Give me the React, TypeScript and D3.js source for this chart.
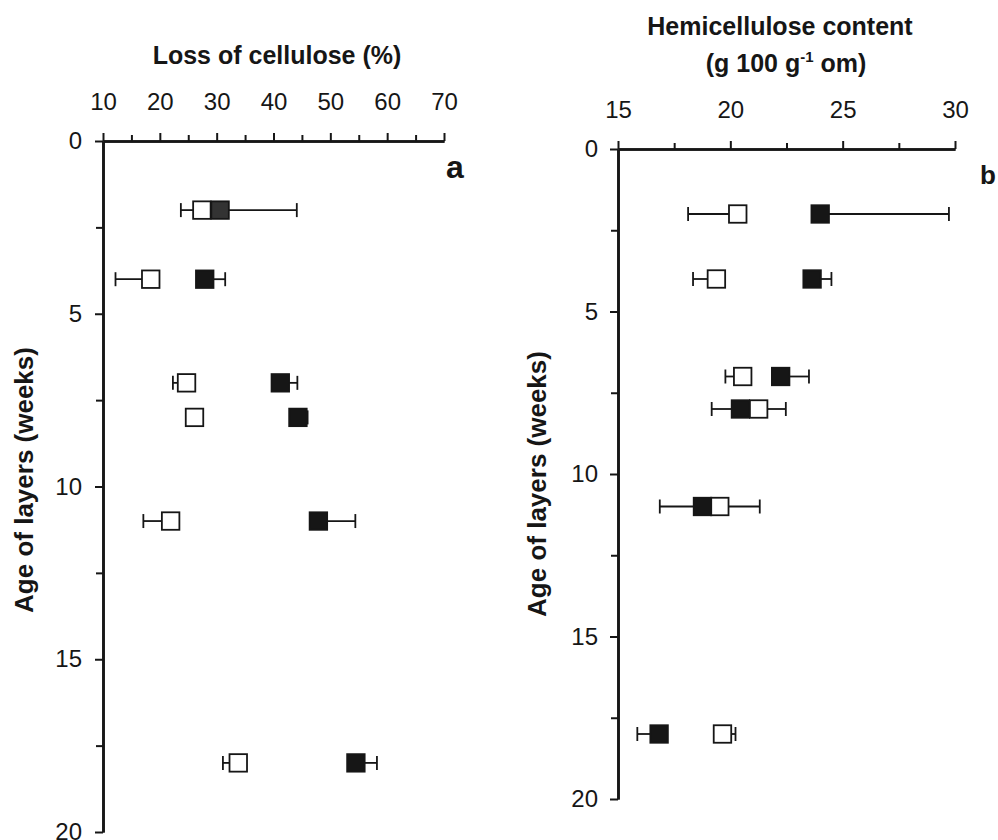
import React, { useRef, useEffect } from "react";
import * as d3 from "d3";

const FONT = "'Liberation Sans', Arial, Helvetica, sans-serif";
const INK = "#161616";

const weeks = [2, 4, 7, 8, 11, 18];
const ageTicks = [0, 5, 10, 15, 20];

// panel a - loss of cellulose (%)
const celluloseTicks = [10, 20, 30, 40, 50, 60, 70];
const celluloseOpen = [27.4, 18.4, 24.7, 26.1, 21.9, 33.8];
const celluloseOpenBar = [23.7, 12.2, 22.3, null, 17.1, 31.1];
const celluloseFilled = [30.6, 27.9, 41.2, 44.3, 47.9, 54.5];
const celluloseFilledBar = [44.1, 31.5, 44.2, 46.0, 54.4, 58.2];

// panel b - hemicellulose content (g 100 g-1 om)
const hemiTicks = [15, 20, 25, 30];
const hemiOpen = [20.33, 19.38, 20.55, 21.26, 19.53, 19.65];
const hemiOpenBar = [18.12, 18.34, 19.78, 22.47, 21.31, 20.23];
const hemiFilled = [24.0, 23.64, 22.24, 20.45, 18.76, 16.83];
const hemiFilledBar = [29.73, 24.5, 23.5, 19.17, 16.86, 15.86];

const midpoints = (t: number[]) => d3.pairs(t).map(([a, b]) => (a + b) / 2);

const drawPanel = (svg: any, p: any) => {
  const x = d3.scaleLinear().domain(p.xDomain).range([p.left, p.right]);
  const y = d3.scaleLinear().domain([0, 20]).range([p.top, p.bottom]);
  const g = svg.append("g");

  const styleAxis = (sel: any) => {
    sel.attr("font-family", FONT).attr("font-size", 24).attr("color", INK);
    sel.selectAll(".tick line").attr("stroke-width", 2);
    sel.select(".domain").attr("stroke-width", 2.6);
  };

  // minor ticks first
  g.append("g")
    .attr("transform", `translate(0,${p.top})`)
    .call(d3.axisTop(x).tickValues(midpoints(p.xTicks)).tickSize(6).tickSizeOuter(0).tickFormat(() => ""))
    .call(styleAxis);
  g.append("g")
    .attr("transform", `translate(${p.left},0)`)
    .call(d3.axisLeft(y).tickValues(midpoints(ageTicks)).tickSize(7).tickSizeOuter(0).tickFormat(() => ""))
    .call(styleAxis);

  g.append("g")
    .attr("transform", `translate(0,${p.top})`)
    .call(d3.axisTop(x).tickValues(p.xTicks).tickSize(8).tickSizeOuter(0).tickPadding(23).tickFormat(d3.format("d")))
    .call(styleAxis);
  g.append("g")
    .attr("transform", `translate(${p.left},0)`)
    .call(d3.axisLeft(y).tickValues(ageTicks).tickSize(8).tickSizeOuter(0).tickPadding(p.yPad).tickFormat(d3.format("d")))
    .call(styleAxis);

  // error bars (one-sided)
  const bars = [
    ...weeks.map((w, i) => ({ w, v: p.open[i], e: p.openBar[i] })),
    ...weeks.map((w, i) => ({ w, v: p.filled[i], e: p.filledBar[i] })),
  ].filter((d) => d.e != null);

  const eb = g.append("g").attr("stroke", INK).attr("stroke-width", 1.8);
  eb.selectAll("line.stem")
    .data(bars)
    .join("line")
    .attr("class", "stem")
    .attr("x1", (d: any) => x(d.v))
    .attr("x2", (d: any) => x(d.e))
    .attr("y1", (d: any) => y(d.w))
    .attr("y2", (d: any) => y(d.w));
  eb.selectAll("line.cap")
    .data(bars)
    .join("line")
    .attr("class", "cap")
    .attr("x1", (d: any) => x(d.e))
    .attr("x2", (d: any) => x(d.e))
    .attr("y1", (d: any) => y(d.w) - 7)
    .attr("y2", (d: any) => y(d.w) + 7);

  const sq = 17.5;
  g.append("g")
    .selectAll("rect")
    .data(weeks)
    .join("rect")
    .attr("x", (d: number, i: number) => x(p.open[i]) - sq / 2)
    .attr("y", (d: number) => y(d) - sq / 2)
    .attr("width", sq)
    .attr("height", sq)
    .attr("fill", "#fff")
    .attr("stroke", INK)
    .attr("stroke-width", 1.8);
  g.append("g")
    .selectAll("rect")
    .data(weeks)
    .join("rect")
    .attr("x", (d: number, i: number) => x(p.filled[i]) - sq / 2)
    .attr("y", (d: number) => y(d) - sq / 2)
    .attr("width", sq)
    .attr("height", sq)
    .attr("fill", (d: number, i: number) => (p.key === "a" && i === 0 ? "#333" : INK))
    .attr("stroke", INK)
    .attr("stroke-width", 1.8);

  // y label
  g.append("text")
    .attr("transform", `translate(${p.yLabelX},${p.yLabelY}) rotate(-90)`)
    .attr("text-anchor", "middle")
    .attr("font-family", FONT)
    .attr("font-weight", "bold")
    .attr("font-size", 26)
    .attr("fill", INK)
    .text("Age of layers (weeks)");

  // panel letter
  g.append("text")
    .attr("x", p.letterX)
    .attr("y", p.letterY)
    .attr("font-family", FONT)
    .attr("font-weight", "bold")
    .attr("font-size", p.letterSize)
    .attr("fill", INK)
    .text(p.key);
};

const App = () => {
  const svgRef = useRef(null);

  useEffect(() => {
    const svg = d3.select(svgRef.current);
    svg.selectAll("*").remove();

    drawPanel(svg, {
      key: "a",
      xDomain: [10, 70],
      xTicks: celluloseTicks,
      left: 103,
      right: 444,
      top: 141,
      bottom: 832,
      yPad: 13,
      open: celluloseOpen,
      openBar: celluloseOpenBar,
      filled: celluloseFilled,
      filledBar: celluloseFilledBar,
      yLabelX: 33,
      yLabelY: 480,
      letterX: 446,
      letterY: 178,
      letterSize: 32,
    });

    drawPanel(svg, {
      key: "b",
      xDomain: [15, 30],
      xTicks: hemiTicks,
      left: 618,
      right: 955,
      top: 149,
      bottom: 799,
      yPad: 12,
      open: hemiOpen,
      openBar: hemiOpenBar,
      filled: hemiFilled,
      filledBar: hemiFilledBar,
      yLabelX: 546,
      yLabelY: 484,
      letterX: 980,
      letterY: 184,
      letterSize: 26,
    });

    // titles
    svg.append("text")
      .attr("x", 277)
      .attr("y", 64)
      .attr("text-anchor", "middle")
      .attr("font-family", FONT)
      .attr("font-weight", "bold")
      .attr("font-size", 25)
      .attr("fill", INK)
      .text("Loss of cellulose (%)");

    svg.append("text")
      .attr("x", 780)
      .attr("y", 35)
      .attr("text-anchor", "middle")
      .attr("font-family", FONT)
      .attr("font-weight", "bold")
      .attr("font-size", 25)
      .attr("fill", INK)
      .text("Hemicellulose content");

    const t2 = svg.append("text")
      .attr("x", 786)
      .attr("y", 72)
      .attr("text-anchor", "middle")
      .attr("font-family", FONT)
      .attr("font-weight", "bold")
      .attr("font-size", 25)
      .attr("fill", INK);
    t2.append("tspan").text("(g 100 g");
    t2.append("tspan").attr("dy", -10).attr("font-size", 15).text("-1");
    t2.append("tspan").attr("dy", 10).text(" om)");
  }, []);

  return (
    <svg
      ref={svgRef}
      width="998"
      height="840"
      style={{ position: "absolute", left: 0, top: 0, background: "#fff" }}
    />
  );
};

export default App;
